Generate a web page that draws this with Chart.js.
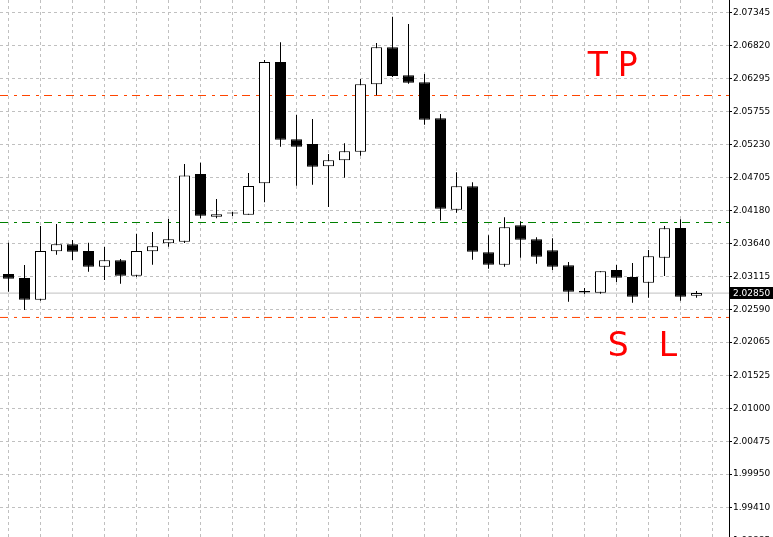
<!DOCTYPE html>
<html>
<head>
<meta charset="utf-8">
<script src="https://cdn.jsdelivr.net/npm/chart.js@4.4.1/dist/chart.umd.min.js"></script>
<style>
  html, body { margin: 0; padding: 0; background: #fff; overflow: hidden; }
  canvas { display: block; }
</style>
</head>
<body>
<canvas id="chart" width="773" height="550"></canvas>
<script>
// candles, oldest first (one per bar slot)
const opens = [2.03157, 2.03093, 2.02745, 2.03521, 2.03633, 2.03526, 2.03274, 2.03376, 2.03129, 2.03521,
  2.03649, 2.03675, 2.04760, 2.04075, 2.04127, 2.04107, 2.04611, 2.06555, 2.05316, 2.05241,
  2.04883, 2.04979, 2.05117, 2.06198, 2.06791, 2.06342, 2.06230, 2.05653, 2.04187, 2.04563,
  2.03505, 2.03306, 2.03937, 2.03713, 2.03537, 2.03296, 2.02885, 2.02857, 2.03221, 2.03109,
  2.03017, 2.03418, 2.03894, 2.02809];
const highs = [2.03658, 2.03301, 2.03926, 2.03958, 2.03702, 2.03658, 2.03590, 2.03397, 2.03803, 2.03830,
  2.04038, 2.04920, 2.04940, 2.04359, 2.04151, 2.04776, 2.06587, 2.06871, 2.05706, 2.05641,
  2.05080, 2.05252, 2.06283, 2.06860, 2.07281, 2.07164, 2.06363, 2.05722, 2.04787, 2.04627,
  2.03777, 2.04066, 2.04002, 2.03745, 2.03729, 2.03349, 2.02933, 2.03200, 2.03301, 2.03333,
  2.03541, 2.03926, 2.04034, 2.02885];
const lows = [2.02873, 2.02580, 2.02729, 2.03466, 2.03381, 2.03194, 2.03061, 2.03001, 2.03109, 2.03306,
  2.03594, 2.03654, 2.04050, 2.04050, 2.04087, 2.04107, 2.04306, 2.05197, 2.04572, 2.04588,
  2.04231, 2.04700, 2.05053, 2.06021, 2.06315, 2.06207, 2.05550, 2.04014, 2.04139, 2.03386,
  2.03242, 2.03274, 2.03418, 2.03322, 2.03221, 2.02713, 2.02836, 2.02841, 2.03029, 2.02697,
  2.02777, 2.03125, 2.02729, 2.02777];
const closes = [2.03081, 2.02745, 2.03526, 2.03633, 2.03514, 2.03274, 2.03376, 2.03129, 2.03526, 2.03601,
  2.03713, 2.04736, 2.04091, 2.04114, 2.04131, 2.04567, 2.06555, 2.05310, 2.05197, 2.04877,
  2.04979, 2.05124, 2.06198, 2.06791, 2.06331, 2.06223, 2.05630, 2.04203, 2.04563, 2.03514,
  2.03306, 2.03905, 2.03707, 2.03434, 2.03274, 2.02873, 2.02860, 2.03200, 2.03097, 2.02793,
  2.03440, 2.03889, 2.02793, 2.02850];

// price axis labels
const priceTicks = [2.07345, 2.06820, 2.06295, 2.05755, 2.05230, 2.04705, 2.04180, 2.03640, 2.03115,
  2.02590, 2.02065, 2.01525, 2.01000, 2.00475, 1.99950, 1.99410, 1.98885];

// horizontal levels
const tpLevel = 2.06018;
const entryLevel = 2.03982;
const slLevel = 2.02460;
const lastPrice = 2.02850;

// hand written notes: text, bar position, price at baseline
const noteTexts = ['TP', 'SL'];
const noteBars = [36.2, 37.45];
const notePrices = [2.06325, 2.01842];

const X_MIN = -0.53125, X_MAX = 45.03125;
const Y_MIN = 1.98732, Y_MAX = 2.07549;
const ORANGE = '#ff4500';
const GRID = '#c0c0c0';
const DASHDOT = [8, 6, 3, 5];

const bodies = opens.map((o, i) => ({x: i, y: [o, closes[i]]}));
const wicks = lows.map((l, i) => ({x: i, y: [l, highs[i]]}));
const bodyColors = opens.map((o, i) => closes[i] >= o ? '#fff' : '#000');

function level(value, color, dash) {
  return {
    type: 'line',
    data: [{x: X_MIN, y: value}, {x: X_MAX, y: value}],
    borderColor: color,
    borderWidth: 1,
    borderDash: dash,
    pointRadius: 0,
    fill: false
  };
}

const overlay = {
  id: 'overlay',
  afterDraw(chart) {
    const {ctx, scales: {x, y}} = chart;
    const py = Math.round(y.getPixelForValue(lastPrice));
    ctx.save();
    ctx.fillStyle = '#000';
    ctx.fillRect(x.right + 1, py - 6, chart.width - x.right - 1, 12);
    ctx.fillStyle = '#fff';
    ctx.font = '9px "DejaVu Sans"';
    ctx.textBaseline = 'middle';
    ctx.fillText(lastPrice.toFixed(5), x.right + 4, py + 0.5);

    ctx.fillStyle = '#ff0000';
    ctx.textBaseline = 'alphabetic';
    ctx.font = '33px "DejaVu Sans"';
    ctx.letterSpacing = '10px';
    ctx.fillText(noteTexts[0], x.getPixelForValue(noteBars[0]), y.getPixelForValue(notePrices[0]));
    ctx.letterSpacing = '30px';
    ctx.fillText(noteTexts[1], x.getPixelForValue(noteBars[1]), y.getPixelForValue(notePrices[1]));
    ctx.restore();
  }
};

function noPadding(scale) {
  scale.paddingTop = 0;
  scale.paddingBottom = 0;
  scale.paddingLeft = 0;
  scale.paddingRight = 0;
}

new Chart(document.getElementById('chart'), {
  type: 'bar',
  data: {
    datasets: [
      {
        data: bodies,
        backgroundColor: bodyColors,
        borderColor: '#000',
        borderWidth: 1,
        borderSkipped: false,
        barThickness: 11,
        minBarLength: 1,
        inflateAmount: 0,
        grouped: false
      },
      {
        data: wicks,
        backgroundColor: '#000',
        borderWidth: 0,
        barThickness: 1,
        inflateAmount: 0,
        grouped: false
      },
      level(lastPrice, GRID, []),
      level(tpLevel, ORANGE, DASHDOT),
      level(entryLevel, '#008000', DASHDOT),
      level(slLevel, ORANGE, DASHDOT)
    ]
  },
  options: {
    responsive: false,
    animation: false,
    layout: {padding: 0},
    plugins: {
      legend: {display: false},
      tooltip: {enabled: false}
    },
    scales: {
      x: {
        type: 'linear',
        min: X_MIN,
        max: X_MAX,
        offset: false,
        afterBuildTicks: scale => {
          const t = [];
          for (let v = 0; v <= 44; v += 2) t.push({value: v});
          scale.ticks = t;
        },
        afterFit: scale => { scale.height = 0; noPadding(scale); },
        ticks: {display: false},
        grid: {color: GRID, drawTicks: false, offset: false},
        border: {display: false, dash: [3, 3]}
      },
      y: {
        type: 'linear',
        position: 'right',
        min: Y_MIN,
        max: Y_MAX,
        afterBuildTicks: scale => {
          scale.ticks = priceTicks.map(v => ({value: v}));
        },
        afterFit: scale => { scale.width = 44; noPadding(scale); },
        ticks: {
          autoSkip: false,
          color: '#000',
          padding: 1,
          font: {family: 'DejaVu Sans', size: 9},
          callback: v => v.toFixed(5)
        },
        grid: {color: GRID, tickColor: '#000', tickLength: 3, tickBorderDash: []},
        border: {color: '#000', width: 1, dash: [3, 3]}
      }
    }
  },
  plugins: [overlay]
});
</script>
</body>
</html>
